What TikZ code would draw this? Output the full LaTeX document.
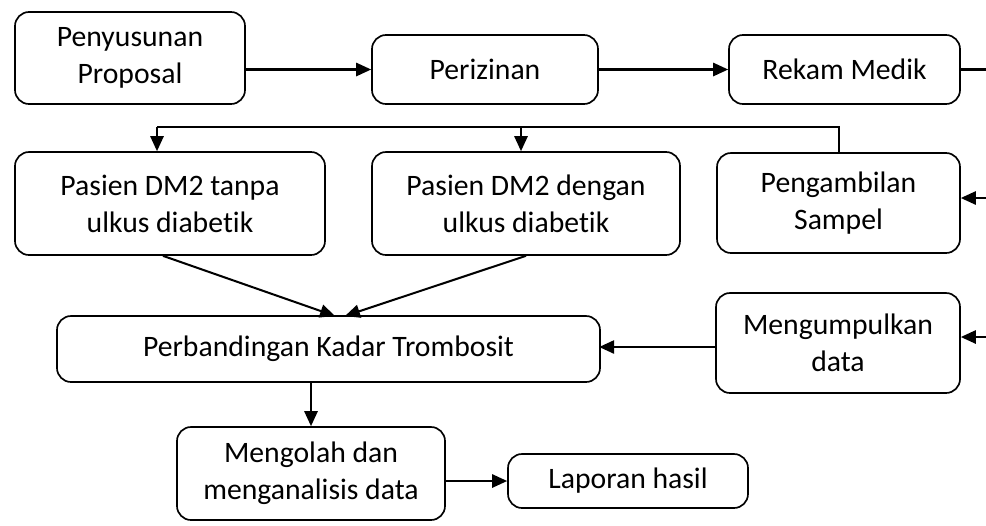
\documentclass[tikz,border=0pt]{standalone}
\usepackage{fontspec}
\setmainfont{Carlito}[Ligatures=NoCommon]
\usetikzlibrary{arrows.meta}

\begin{document}
\begin{tikzpicture}[
  x=0.02cm,
  y=-0.02cm,
  box/.style={draw=black, line width=0.95pt, rounded corners=8pt, align=center, inner sep=1pt,
    font=\fontsize{16.9}{21}\selectfont},
  link/.style={black, line width=1.15pt},
  arr/.style={link, -{Triangle[length=8.5pt, width=7.5pt]}}
]
\useasboundingbox (0,0) rectangle (986,525);

\node[box, minimum width=230*0.02cm, minimum height=92*0.02cm] (prop) at (130,58) {Penyusunan\\Proposal};
\node[box, minimum width=226*0.02cm, minimum height=69*0.02cm] (izin) at (485,69.5) {Perizinan};
\node[box, minimum width=231*0.02cm, minimum height=69*0.02cm] (rekam) at (844.5,69.5) {Rekam Medik};

\node[box, minimum width=310*0.02cm, minimum height=103*0.02cm] (tanpa) at (170,203.5) {Pasien DM2 tanpa\\ulkus diabetik};
\node[box, minimum width=308*0.02cm, minimum height=103*0.02cm] (dengan) at (526,203.5) {Pasien DM2 dengan\\ulkus diabetik};
\node[box, minimum width=243*0.02cm, minimum height=100*0.02cm] (sampel) at (838.5,203) {Pengambilan\\Sampel};

\node[box, minimum width=543*0.02cm, minimum height=66*0.02cm] (banding) at (328.5,349) {Perbandingan Kadar Trombosit};
\node[box, minimum width=244*0.02cm, minimum height=100*0.02cm] (kumpul) at (838,343) {Mengumpulkan\\data};

\node[box, minimum width=268*0.02cm, minimum height=93*0.02cm] (olah) at (311,473.5) {Mengolah dan\\menganalisis data};
\node[box, minimum width=240*0.02cm, minimum height=54*0.02cm] (lapor) at (628,481) {Laporan hasil};

% free ends at the right edge
\coordinate (outRekam) at (986,69.5);
\coordinate (inSampel) at (986,198);
\coordinate (inKumpul) at (986,337);
\coordinate (busL) at (157,127);
\coordinate (busM) at (521,127);
\coordinate (tipL) at (335,316);
\coordinate (tipR) at (345,316);

\draw[arr] (prop.east |- izin.west) -- (izin.west);
\draw[arr] (izin.east) -- (rekam.west);
\draw[link] (rekam.east) -- (outRekam);

\draw[link] (sampel.north) |- (busL);
\draw[arr] (busL) -- (busL |- tanpa.north);
\draw[arr] (busM) -- (busM |- dengan.north);
\draw[arr] (inSampel) -- (inSampel -| sampel.east);

\draw[arr] (tanpa.south) ++(-7,0) -- (tipL);
\draw[arr] (dengan.south) -- (tipR);

\draw[arr] (inKumpul) -- (inKumpul -| kumpul.east);
\draw[arr] (kumpul.west) ++(0,4) -- ++(-116,0);

\draw[arr] (olah.north |- banding.south) -- (olah.north);
\draw[arr] (olah.east |- lapor.west) -- (lapor.west);
\end{tikzpicture}
\end{document}
